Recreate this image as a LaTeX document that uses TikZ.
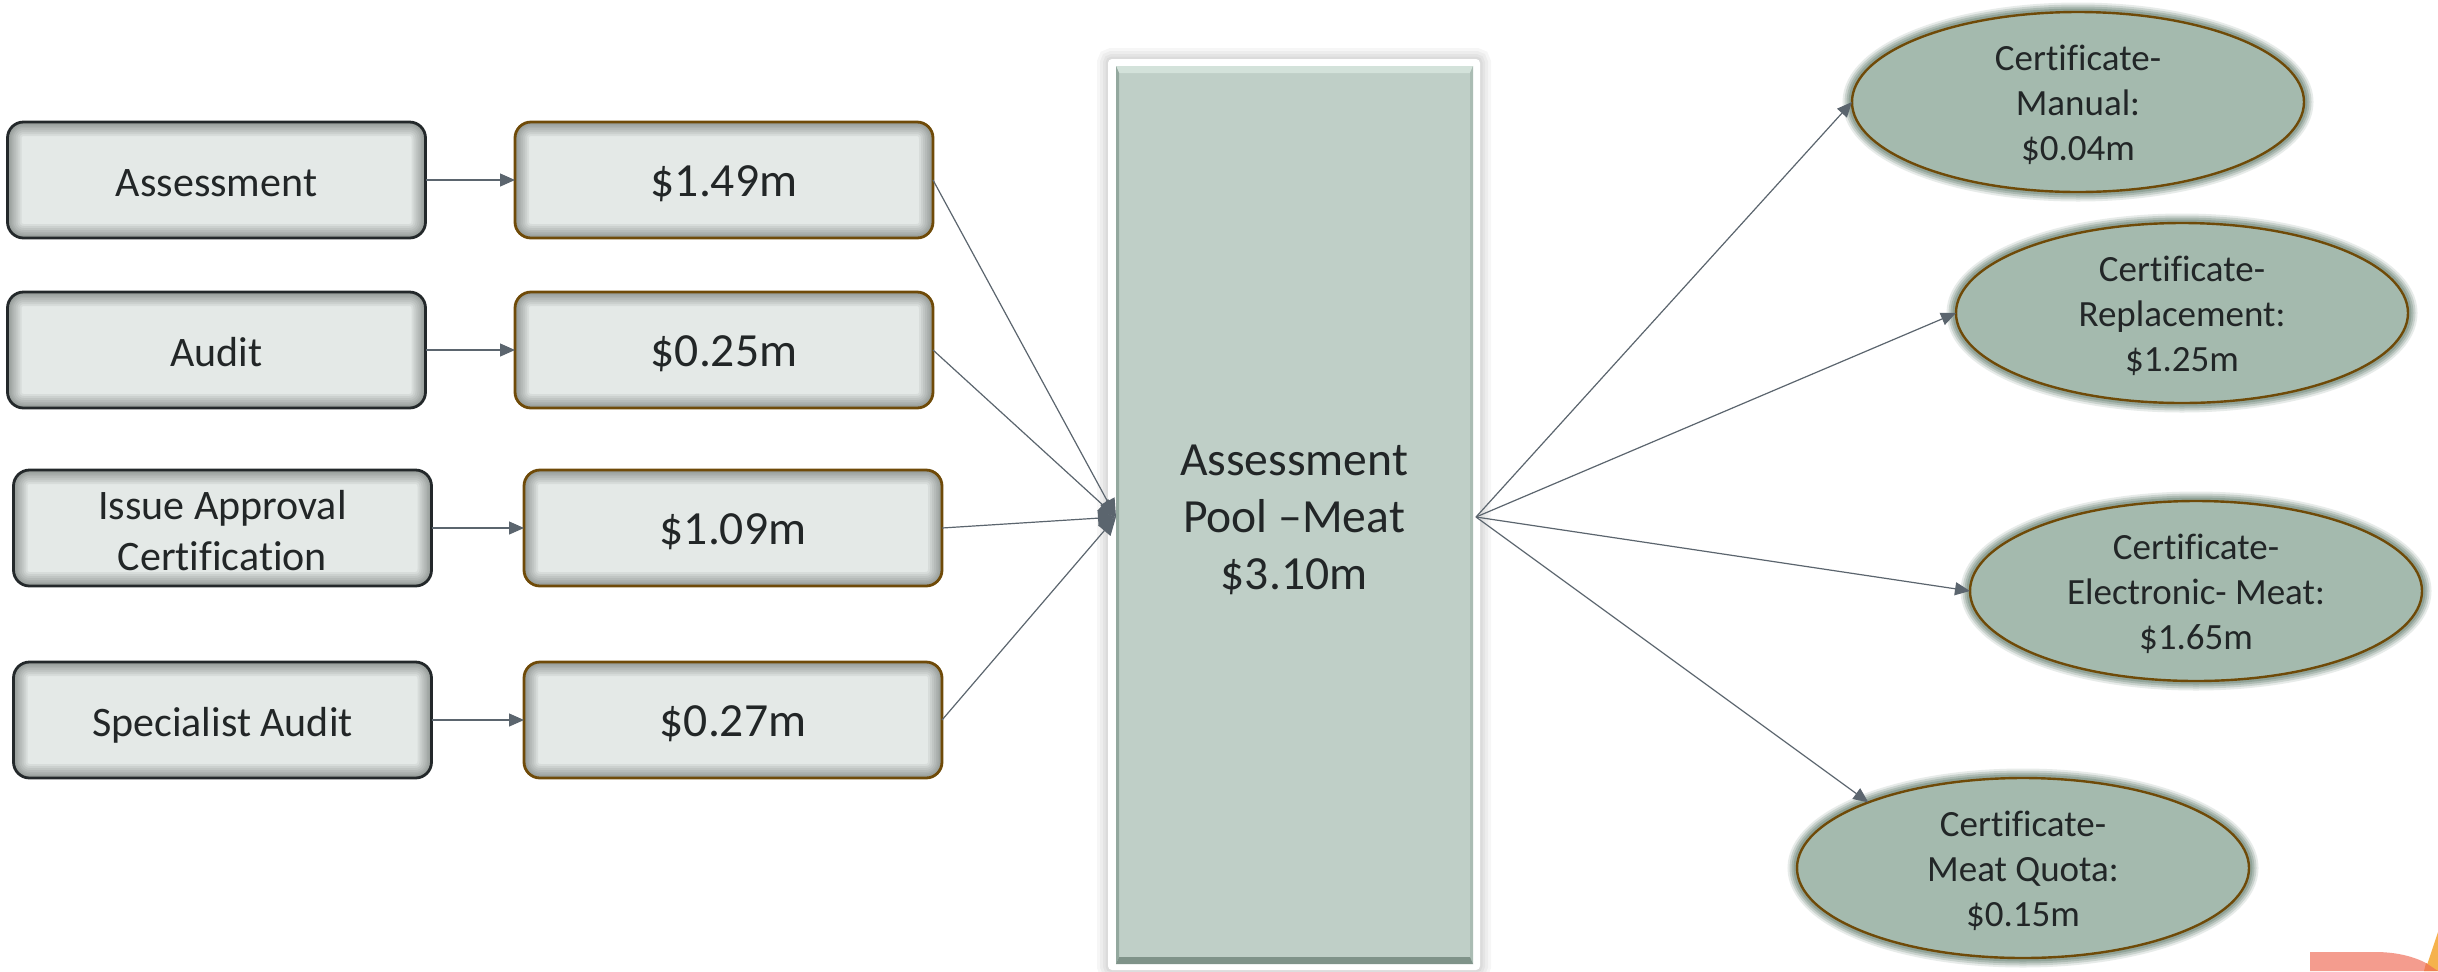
\documentclass[tikz,border=0pt]{standalone}
\usepackage{fontspec}
\setmainfont{Carlito}[Ligatures=CommonOff]
\usetikzlibrary{arrows.meta,shapes.geometric,calc}
\definecolor{ink}{HTML}{222627}
\definecolor{boxfill}{HTML}{E4E9E7}
\definecolor{boxglow}{HTML}{4E5653}
\definecolor{brownline}{HTML}{6F4A08}
\definecolor{darkline}{HTML}{23282A}
\definecolor{ellfill}{HTML}{A4BAAE}
\definecolor{ellglow}{HTML}{5F7A6C}
\definecolor{conn}{HTML}{5B656E}
\definecolor{poolfill}{HTML}{BFCFC7}
\definecolor{artorange}{HTML}{F5B24C}
\definecolor{artpink}{HTML}{F49C8E}
\definecolor{artdeep}{HTML}{F08054}
\definecolor{bevtop}{HTML}{D3E2DA}
\definecolor{bevleft}{HTML}{93A89E}
\definecolor{bevright}{HTML}{AABCB3}
\definecolor{bevbottom}{HTML}{7F9389}
% invisible struts that place the text's baseline inside its shape
\newcommand{\onelinelead}{\rule[-4pt]{0pt}{24.2pt}}
\newcommand{\srclead}{\rule{0pt}{16.8pt}}
\newcommand{\certlead}{\rule{0pt}{15.6pt}}
\newcommand{\poollead}{\rule{0pt}{18.4pt}}
\tikzset{
  softbox/.style={rectangle,rounded corners=8pt,minimum width=209pt,minimum height=58pt,
    inner sep=0pt,outer sep=0pt,align=center,fill=boxfill,text=ink,line width=1.4pt,
    path picture={
      \foreach \w in {14pt,12pt,10pt,8pt,6pt,4.5pt,3pt,1.5pt}{
        \draw[boxglow,line width=\w,draw opacity=0.085,rounded corners=8pt]
          (path picture bounding box.south west) rectangle (path picture bounding box.north east);
      }}},
  srcbox/.style={softbox,draw=darkline,font=\fontsize{21}{25.4}\selectfont},
  valbox/.style={softbox,draw=brownline,font=\fontsize{23.8}{28}\selectfont},
  certell/.style={ellipse,minimum width=226pt,minimum height=90pt,inner sep=0pt,outer sep=0pt,
    align=center,fill=ellfill,text=ink,draw=brownline,line width=1.2pt,
    font=\fontsize{18.5}{22.7}\selectfont,
    preaction={draw=ellglow,line width=9.5pt,draw opacity=0.15},
    preaction={draw=ellglow,line width=7.5pt,draw opacity=0.22},
    preaction={draw=ellglow,line width=5.5pt,draw opacity=0.28},
    preaction={draw=ellglow,line width=3.5pt,draw opacity=0.35}},
  poolnode/.style={rectangle,minimum width=186pt,minimum height=455.5pt,inner sep=0pt,outer sep=0pt,
    align=center,text=ink,font=\fontsize{23.8}{28.5}\selectfont},
  link/.style={conn,line width=0.6pt,-{Triangle[length=7.5pt,width=6.5pt]}},
  poollink/.style={conn,line width=0.6pt,-{Triangle[length=9pt,width=8pt]}}
}
\begin{document}
\begin{tikzpicture}[x=0.5pt,y=-0.5pt]
\useasboundingbox (0,0) rectangle (2438,971);
\fill[white] (0,0) rectangle (2438,971);
% corner art
\fill[artorange] (2425,971) -- (2438,932) -- (2438,971) -- cycle;
\fill[artpink] (2310,952) -- (2375,952) .. controls (2398,952) and (2415,957) .. (2428,964) -- (2425,971) -- (2310,971) -- cycle;
\fill[artdeep] (2426,963) -- (2438,971) -- (2424,971) -- cycle;
% pool frame and bevel
\foreach \w in {11pt,8pt,5pt,2.5pt}{
  \draw[black,line width=\w,draw opacity=0.035,rounded corners=2pt] (1108,59) rectangle (1480,970);
}
\fill[white,rounded corners=2pt] (1108,59) rectangle (1480,970);
\fill[poolfill] (1116,66) rectangle (1473,964);
\fill[bevtop] (1116,66) -- (1473,66) -- (1470,73) -- (1119,73) -- cycle;
\fill[bevleft] (1116,66) -- (1119,73) -- (1119,957) -- (1116,964) -- cycle;
\fill[bevright] (1473,66) -- (1470,73) -- (1470,957) -- (1473,964) -- cycle;
\fill[bevbottom] (1116,964) -- (1119,957) -- (1470,957) -- (1473,964) -- cycle;
\node[poolnode] (pool) at (1294,517) {\poollead Assessment\\Pool –Meat\\\$3.10m};
% source boxes
\node[srcbox] (a1) at (216.5,180) {\onelinelead Assessment};
\node[srcbox] (a2) at (216.5,350) {\onelinelead Audit};
\node[srcbox] (a3) at (222.5,528) {\srclead Issue Approval\\Certification};
\node[srcbox] (a4) at (222.5,720) {\onelinelead Specialist Audit};
% value boxes
\node[valbox] (b1) at (724,180) {\onelinelead\$1.49m};
\node[valbox] (b2) at (724,350) {\onelinelead\$0.25m};
\node[valbox] (b3) at (733,528) {\onelinelead\$1.09m};
\node[valbox] (b4) at (733,720) {\onelinelead\$0.27m};
% certificates
\node[certell] (e1) at (2078,102) {\certlead Certificate-\\Manual:\\\$0.04m};
\node[certell] (e2) at (2182,313) {\certlead Certificate-\\Replacement:\\\$1.25m};
\node[certell] (e3) at (2196,591) {\certlead Certificate-\\Electronic- Meat:\\\$1.65m};
\node[certell] (e4) at (2023,868) {\certlead Certificate-\\Meat Quota:\\\$0.15m};
% connectors
\foreach \i in {1,2,3,4}{
  \draw[link] (a\i.east) -- (b\i.west);
  \draw[poollink] (b\i.east) -- ([xshift=4pt]pool.west);
}
\draw[link] ([xshift=-2pt]pool.east) -- (e1.west);
\draw[link] ([xshift=-2pt]pool.east) -- (e2.west);
\draw[link] ([xshift=-2pt]pool.east) -- (e3.west);
\draw[link] ([xshift=-2pt]pool.east) -- (e4.157.6);
\end{tikzpicture}
\end{document}
